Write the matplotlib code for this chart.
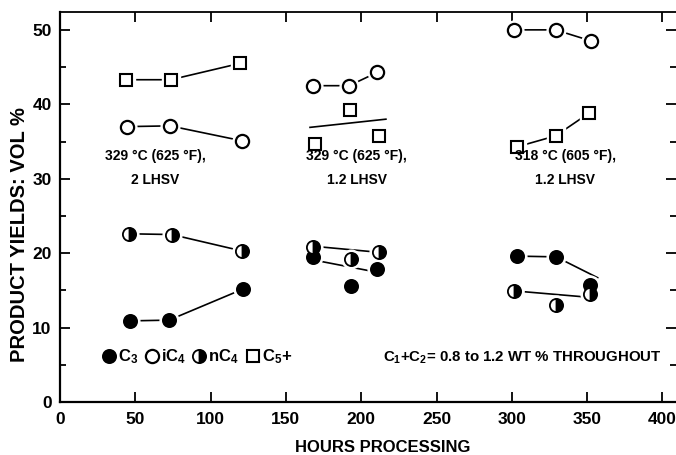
import matplotlib
matplotlib.use("Agg")
import matplotlib.pyplot as plt
from matplotlib.lines import Line2D
from matplotlib.ticker import MultipleLocator

plt.rcParams["font.family"] = ["Liberation Sans", "DejaVu Sans"]
plt.rcParams["font.weight"] = "bold"
plt.rcParams["mathtext.fontset"] = "custom"
plt.rcParams["mathtext.rm"] = "Liberation Sans:bold"
plt.rcParams["mathtext.it"] = "Liberation Sans:bold"
plt.rcParams["mathtext.bf"] = "Liberation Sans:bold"

# ── DATA ─────────────────────────────────────────────────────────────────────
# group 1: 329 C, 2 LHSV
g1_c5_x = [43.6, 73.5, 119.6];  g1_c5_y = [43.3, 43.3, 45.5]
g1_ic4_x = [44.3, 73.0, 120.7]; g1_ic4_y = [37.0, 37.1, 35.1]
g1_nc4_x = [46.0, 74.2, 120.7]; g1_nc4_y = [22.6, 22.5, 20.3]
g1_c3_x = [46.5, 72.4, 121.8];  g1_c3_y = [10.9, 11.0, 15.2]

# group 2: 329 C, 1.2 LHSV
g2_ic4_x = [168.0, 192.0, 210.8]; g2_ic4_y = [42.5, 42.5, 44.3]
g2_c5_x = [169.4, 192.7, 211.5];  g2_c5_y = [34.7, 39.3, 35.75]
g2_nc4_x = [168.3, 193.4, 211.5]; g2_nc4_y = [20.8, 19.2, 20.2]
g2_c3_x = [168.3, 193.4, 210.8];  g2_c3_y = [19.5, 15.6, 17.9]
# fitted lines drawn through the scatter
g2_c5_fit_x = [166.0, 216.4];  g2_c5_fit_y = [36.9, 38.0]
g2_nc4_fit_x = [175.0, 207.0]; g2_nc4_fit_y = [20.8, 20.2]
g2_c3_fit_x = [174.0, 205.0];  g2_c3_fit_y = [18.86, 17.65]

# group 3: 318 C, 1.2 LHSV
g3_ic4_x = [301.7, 329.0, 352.8]; g3_ic4_y = [50.0, 50.0, 48.5]
g3_c5_x = [303.7, 329.0, 351.5];  g3_c5_y = [34.3, 35.75, 38.85]
g3_c3_x = [303.4, 329.4, 352.0];  g3_c3_y = [19.6, 19.5, 15.7]
g3_nc4_x = [301.7, 329.0, 352.0]; g3_nc4_y = [14.9, 13.0, 14.5]
g3_c3_fit_x = [303.4, 329.4, 357.0]; g3_c3_fit_y = [19.6, 19.5, 16.7]
g3_nc4_fit_x = [309.0, 346.6];       g3_nc4_fit_y = [14.8, 14.15]

cond_x = [63, 197, 335.5]
cond_labels = ["329 \u00b0C (625 \u00b0F),\n2 LHSV",
               "329 \u00b0C (625 \u00b0F),\n1.2 LHSV",
               "318 \u00b0C (605 \u00b0F),\n1.2 LHSV"]

# ── STYLE ────────────────────────────────────────────────────────────────────
MS = 9.5
STY = {
    "c3":  dict(marker="o", mfc="black", mec="black", ms=MS, mew=1.3),
    "ic4": dict(marker="o", mfc="white", mec="black", ms=MS, mew=1.6),
    "nc4": dict(marker="o", mfc="black", mec="black", ms=MS, mew=1.3,
                fillstyle="right", markerfacecoloralt="white"),
    "c5":  dict(marker="s", mfc="white", mec="black", ms=MS - 0.5, mew=1.5),
}
LW = 1.2

fig = plt.figure(figsize=(6.76, 4.55), dpi=100)
ax = fig.add_axes([60 / 676, 53 / 455, 616 / 676, 390 / 455])


def line(x, y):
    ax.plot(x, y, color="black", lw=LW, zorder=2)


def pts(x, y, kind):
    # white halo leaves a small gap between line and marker
    ax.plot(x, y, ls="none", marker=STY[kind]["marker"], ms=STY[kind]["ms"] + 4,
            mfc="white", mec="white", zorder=3)
    ax.plot(x, y, ls="none", zorder=4, **STY[kind])


# connecting / fitted lines
for x, y in [(g1_c5_x, g1_c5_y), (g1_ic4_x, g1_ic4_y), (g1_nc4_x, g1_nc4_y),
             (g1_c3_x, g1_c3_y), (g2_ic4_x, g2_ic4_y), (g2_c5_fit_x, g2_c5_fit_y),
             (g2_nc4_fit_x, g2_nc4_fit_y), (g2_c3_fit_x, g2_c3_fit_y),
             (g3_ic4_x, g3_ic4_y), (g3_c5_x, g3_c5_y),
             (g3_c3_fit_x, g3_c3_fit_y), (g3_nc4_fit_x, g3_nc4_fit_y)]:
    line(x, y)

pts(g1_c5_x, g1_c5_y, "c5");  pts(g1_ic4_x, g1_ic4_y, "ic4")
pts(g1_nc4_x, g1_nc4_y, "nc4"); pts(g1_c3_x, g1_c3_y, "c3")
pts(g2_c5_x, g2_c5_y, "c5");  pts(g2_ic4_x, g2_ic4_y, "ic4")
pts(g2_c3_x, g2_c3_y, "c3");  pts(g2_nc4_x, g2_nc4_y, "nc4")
pts(g3_c5_x, g3_c5_y, "c5");  pts(g3_ic4_x, g3_ic4_y, "ic4")
pts(g3_c3_x, g3_c3_y, "c3");  pts(g3_nc4_x, g3_nc4_y, "nc4")

for cx, lab in zip(cond_x, cond_labels):
    ax.text(cx, 31.5, lab, ha="center", va="center", fontsize=10,
            fontweight="bold", linespacing=1.9, zorder=5)

ax.text(214.6, 6.0, "C$_1$+C$_2$= 0.8 to 1.2 WT % THROUGHOUT", ha="left",
        va="center", fontsize=10.8, fontweight="bold")

handles = [Line2D([], [], ls="none", **STY[k]) for k in ["c3", "ic4", "nc4", "c5"]]
labels = ["C$_3$", "iC$_4$", "nC$_4$", "C$_5$+"]
ax.legend(handles, labels, loc="center left", bbox_to_anchor=(0.055, 0.115),
          ncol=4, frameon=False, handlelength=0.8, handletextpad=0.15,
          columnspacing=0.4, fontsize=12, borderpad=0)

# ── AXES ─────────────────────────────────────────────────────────────────────
ax.set_xlim(0, 409)
ax.set_ylim(0, 52.4)
ax.xaxis.set_major_locator(MultipleLocator(50))
ax.yaxis.set_major_locator(MultipleLocator(10))
ax.yaxis.set_minor_locator(MultipleLocator(5))
ax.tick_params(which="both", direction="in", top=True, right=True,
               width=1.3, labelsize=12.5)
ax.tick_params(which="major", length=7)
ax.tick_params(which="minor", length=4)
ax.tick_params(axis="x", pad=7)
ax.tick_params(axis="y", pad=6)
for lab in ax.get_xticklabels() + ax.get_yticklabels():
    lab.set_fontweight("bold")
ax.spines["right"].set_visible(False)
for s in ["left", "bottom"]:
    ax.spines[s].set_linewidth(1.6)
ax.spines["top"].set_linewidth(1.3)

ax.set_xlabel("HOURS PROCESSING", fontsize=12, fontweight="bold")
ax.set_ylabel("PRODUCT YIELDS: VOL %", fontsize=14.5, fontweight="bold")
ax.xaxis.set_label_coords(0.524, -0.097)
ax.yaxis.set_label_coords(-0.05, 0.43)

fig.savefig("out.png", dpi=100)
